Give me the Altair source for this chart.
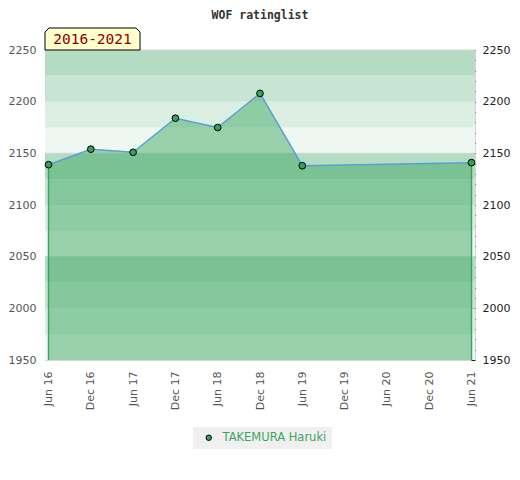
import json
import altair as alt
import pandas as pd

# ---- data ----
months = [0, 6, 12, 18, 24, 30, 36, 60]
period_names = ["Jun 16", "Dec 16", "Jun 17", "Dec 17", "Jun 18", "Dec 18", "Jun 19", "Jun 21"]
ratings = [2139, 2154, 2151, 2184, 2175, 2208, 2138, 2141]
player = "TAKEMURA Haruki"
period_label = "2016-2021"
chart_title = "WOF ratinglist"

x_tick_months = [0, 6, 12, 18, 24, 30, 36, 42, 48, 54, 60]
x_tick_labels = ["Jun 16", "Dec 16", "Jun 17", "Dec 17", "Jun 18", "Dec 18",
                 "Jun 19", "Dec 19", "Jun 20", "Dec 20", "Jun 21"]

y_label_values = [1950, 2000, 2050, 2100, 2150, 2200, 2250]
y_minor_values = [1950, 1960, 1970, 1980, 1990, 2000, 2010, 2020, 2030, 2040, 2050,
                  2060, 2070, 2080, 2090, 2100, 2110, 2120, 2130, 2140, 2150,
                  2160, 2170, 2180, 2190, 2200, 2210, 2220, 2230, 2240, 2250]

band_lows = [1950, 1975, 2000, 2025, 2050, 2075, 2100, 2125, 2150, 2175, 2200, 2225]
band_highs = [1975, 2000, 2025, 2050, 2075, 2100, 2125, 2150, 2175, 2200, 2225, 2250]
band_colors = ["#eef7f2", "#daeee2", "#c8e5d4", "#b3dcc2"] * 3
grid_values = [2050, 2150, 2250]

GREEN = "#3aa660"
POINT_FILL = "#35a05a"
LINE_BLUE = "#5a9fd8"

df = pd.DataFrame({"month": months, "period": period_names, "rating": ratings,
                   "player": [player] * len(months)})
edges = df.iloc[[0, len(df) - 1]]
bands = pd.DataFrame({"lo": band_lows, "hi": band_highs, "c": band_colors})
grid = pd.DataFrame({"g": grid_values})
badge = pd.DataFrame({"label": [period_label]})

yscale = alt.Scale(domain=[1950, 2250], nice=False, zero=False)
xscale = alt.Scale(domain=[-0.5, 60.5], nice=False, zero=False)

x_axis = alt.Axis(values=x_tick_months,
                  labelExpr=json.dumps(x_tick_labels) + "[round(datum.value / 6)]",
                  labelAngle=-90, ticks=False, domain=False, grid=False,
                  labelPadding=11, labelColor="#555", labelFont="DejaVu Sans",
                  labelFontSize=11, labelFlush=False, labelOverlap=False, title=None)
x_enc = alt.X("month:Q", scale=xscale, axis=x_axis)

band_layer = alt.Chart(bands).mark_rect().encode(
    y=alt.Y("lo:Q", scale=yscale, axis=None),
    y2="hi:Q",
    fill=alt.Fill("c:N", scale=None),
)

grid_layer = alt.Chart(grid).mark_rule(color="#d2d2d2", strokeWidth=1).encode(
    y=alt.Y("g:Q", scale=yscale, axis=None),
)

# right axis carrier (invisible rules at minor tick values)
right_axis_layer = alt.Chart(pd.DataFrame({"t": y_minor_values})).mark_rule(opacity=0).encode(
    y=alt.Y("t:Q", scale=yscale,
            axis=alt.Axis(orient="right", values=y_minor_values, format="d",
                          labelExpr="datum.value % 50 === 0 ? datum.label : ''",
                          offset=-4, tickSize=4, tickColor="#222", tickWidth=1,
                          domain=False, grid=False, labelPadding=7,
                          labelColor="#222", labelFont="DejaVu Sans", labelFontSize=11,
                          labelFlush=False, labelOverlap=False, title=None)),
)

area_layer = alt.Chart(df).mark_area(color=GREEN, opacity=0.47).encode(
    x=x_enc,
    y=alt.Y("rating:Q", scale=yscale,
            axis=alt.Axis(orient="left", values=y_label_values, format="d",
                          ticks=False, domain=False, grid=False, labelPadding=9,
                          labelColor="#555", labelFont="DejaVu Sans", labelFontSize=11,
                          labelFlush=False, labelOverlap=False, title=None)),
    y2=alt.Y2(datum=1950),
)

edge_layer = alt.Chart(edges).mark_rule(color=GREEN, strokeWidth=1.5).encode(
    x=x_enc,
    y=alt.Y("rating:Q", scale=yscale, axis=None),
    y2=alt.Y2(datum=1950),
)

line_layer = alt.Chart(df).mark_line(color=LINE_BLUE, strokeWidth=1.5).encode(
    x=x_enc,
    y=alt.Y("rating:Q", scale=yscale, axis=None),
)

point_layer = alt.Chart(df).mark_point(filled=True, stroke="black", strokeWidth=1,
                                       size=45, opacity=1).encode(
    x=x_enc,
    y=alt.Y("rating:Q", scale=yscale, axis=None),
    color=alt.Color("player:N", scale=alt.Scale(range=[POINT_FILL]),
                    legend=alt.Legend(title=None, orient="none", legendX=148, legendY=377,
                                      direction="horizontal", fillColor="#f0f0f0",
                                      padding=5, labelColor=GREEN, labelFont="DejaVu Sans",
                                      labelFontSize=11.5, symbolType="circle", symbolSize=30,
                                      symbolStrokeColor="black", symbolStrokeWidth=1,
                                      symbolOffset=5, labelOffset=8)),
)

badge_path = ("M -1 0.2316 L -1 -0.147 L -0.916 -0.2316 L 0.916 -0.2316 "
              "L 1 -0.147 L 1 0.2316 Z")
badge_box = alt.Chart(badge).mark_point(shape=badge_path, filled=True, fill="#ffffcc",
                                        stroke="black", strokeWidth=1, opacity=1,
                                        size=95 * 95).encode(
    x=alt.value(47.5), y=alt.value(-11),
)
badge_text = alt.Chart(badge).mark_text(font="DejaVu Sans Mono", fontSize=14.5,
                                        color="#8b0000", align="center",
                                        baseline="middle").encode(
    x=alt.value(47.5), y=alt.value(-10.5), text="label:N",
)

chart = alt.layer(
    band_layer, grid_layer, right_axis_layer, area_layer, edge_layer,
    line_layer, point_layer, badge_box, badge_text,
).resolve_axis(y="independent").properties(
    width=430, height=310,
    title=alt.TitleParams(chart_title, font="DejaVu Sans Mono", fontSize=11.5,
                          fontWeight="bold", color="#333", anchor="middle", offset=4),
    autosize=alt.AutoSizeParams(type="none"),
    padding={"left": 37, "top": 42, "right": 37, "bottom": 100},
).configure_view(stroke="#d6d6d6", strokeWidth=1)

chart.save("out.html", embed_options={"renderer": "svg", "actions": False})
